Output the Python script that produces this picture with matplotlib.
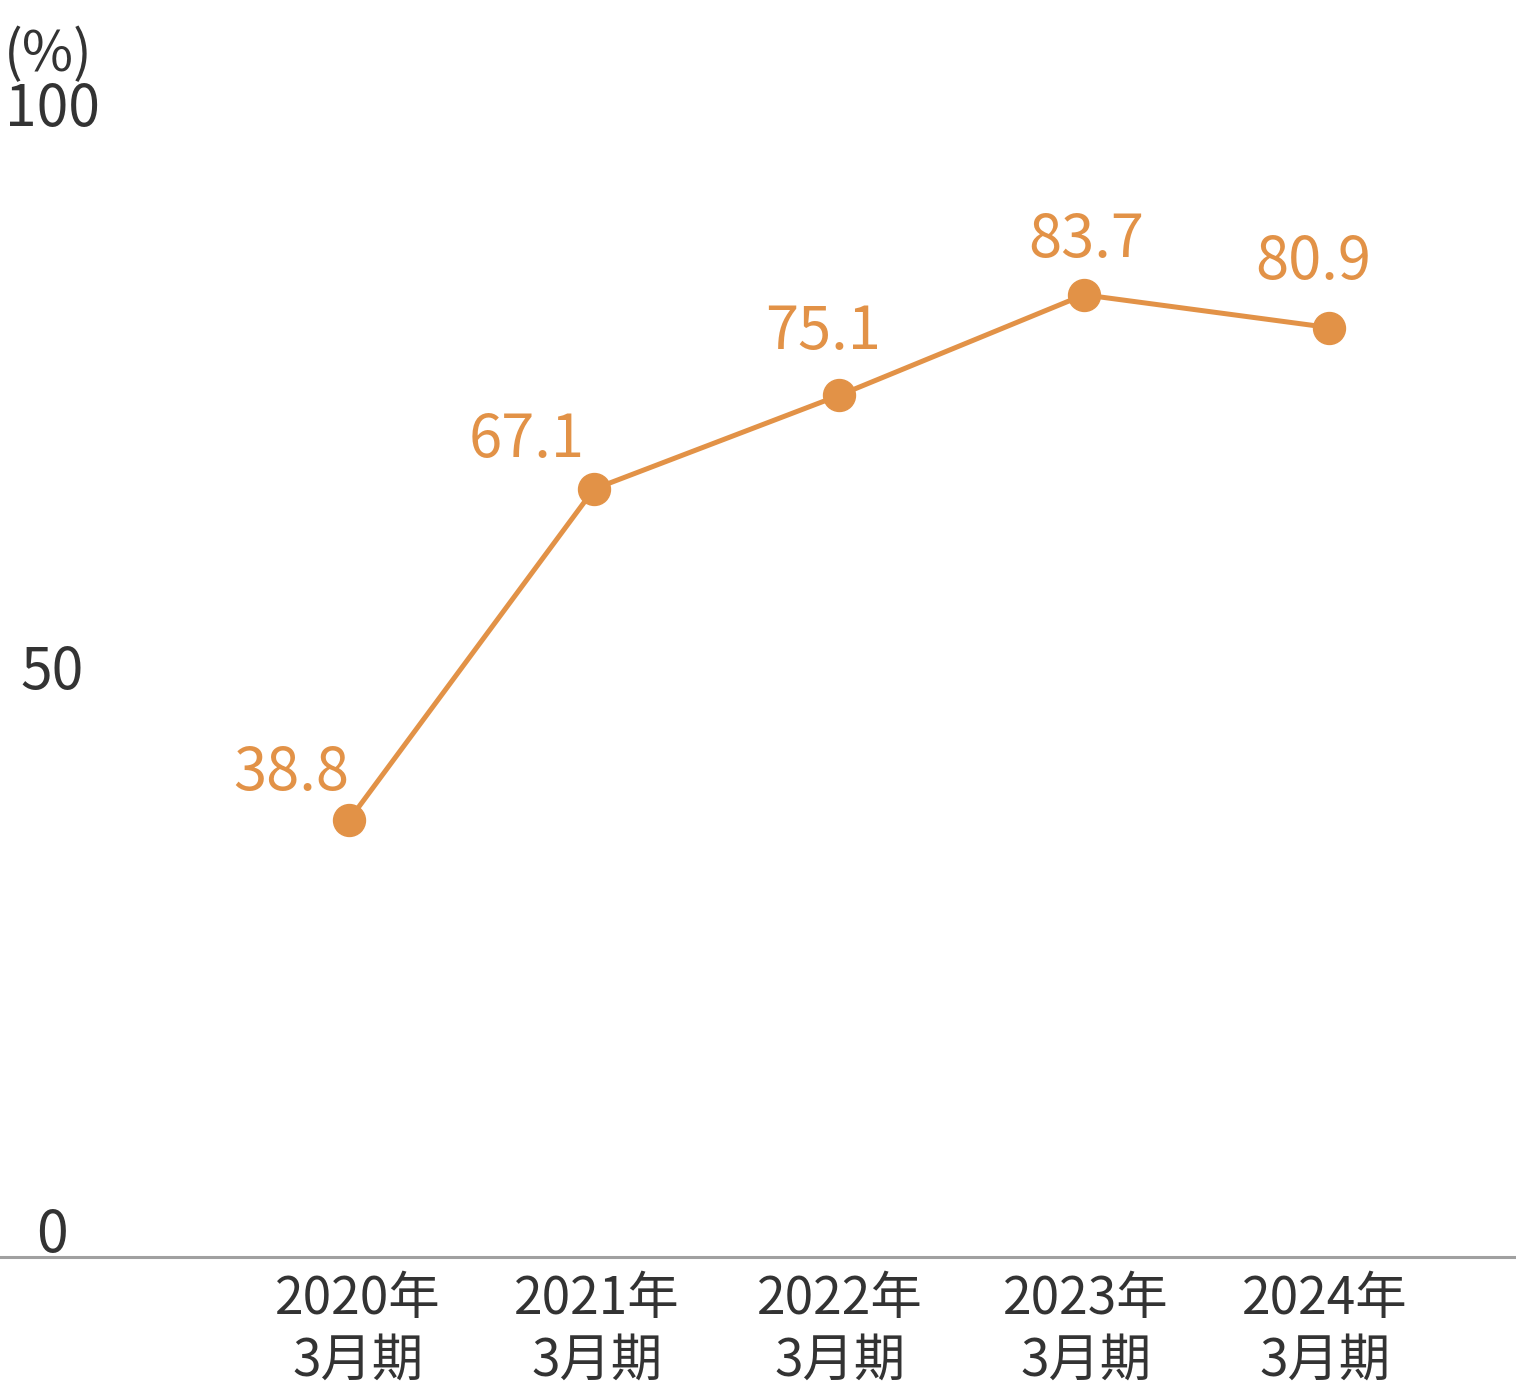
import matplotlib
matplotlib.use("Agg")
import matplotlib.pyplot as plt
from matplotlib.transforms import ScaledTranslation

plt.rcParams['font.family'] = ['Noto Sans CJK JP', 'DejaVu Sans']

years = ["2020年\n3月期", "2021年\n3月期", "2022年\n3月期", "2023年\n3月期", "2024年\n3月期"]
values = [38.8, 67.1, 75.1, 83.7, 80.9]
yticks = [0, 50, 100]

orange = "#E29247"
dark = "#333333"
PX = 72 / 100.0  # pixels -> points at dpi 100

fig = plt.figure(figsize=(15.16, 13.9), dpi=100)
ax = fig.add_axes([0, (1390 - 1257) / 1390, 1, 1257 / 1390])

x = list(range(len(values)))
ax.plot(x, values, color=orange, lw=3.6, marker="o", ms=23, zorder=3)

# label offsets in pixels (dx, dy)
offs = [(-58, 47), (-67, 48), (-16, 63), (2, 54), (-16, 65)]
for xi, v, (dx, dy) in zip(x, values, offs):
    ax.annotate(f"{v:.1f}", (xi, v), xytext=(dx * PX, dy * PX), textcoords="offset points",
                ha="center", va="center", fontsize=43, color=orange)

ax.set_xlim(-1.4245, 4.763)
ax.set_ylim(1.45, 108.9)

for s in ["top", "left", "right"]:
    ax.spines[s].set_visible(False)
ax.spines["bottom"].set_color("#A0A0A0")
ax.spines["bottom"].set_linewidth(2.2)

ax.set_xticks(x)
ax.set_xticklabels(years, fontsize=37, color=dark, linespacing=1.2)
ax.tick_params(axis="x", length=0, pad=11)
ax.set_yticks([])
xlab_dx = [9, 3, 1, 2, -4]
for lab, d in zip(ax.get_xticklabels(), xlab_dx):
    lab.set_transform(lab.get_transform() + ScaledTranslation(d / 100, 0, fig.dpi_scale_trans))

# y tick labels, shifted like the original
ylab_shift = {0: 3.3, 50: 1.4, 100: -0.5}
for t in yticks:
    ax.text(-1.212, t + ylab_shift[t], str(t), ha="center", va="center",
            fontsize=41, color=dark)
ax.text(-1.228, 104.2, "(%)", ha="center", va="center", fontsize=40, color=dark)

fig.savefig("out.png", dpi=100)
